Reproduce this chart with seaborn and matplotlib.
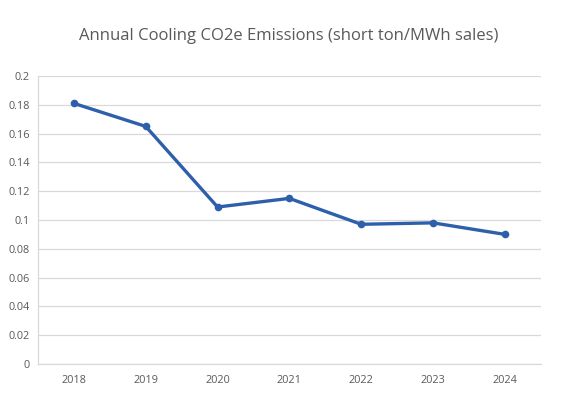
import numpy as np
import matplotlib
matplotlib.use("Agg")
import matplotlib.pyplot as plt
import pandas as pd
import seaborn as sns

years = ["2018", "2019", "2020", "2021", "2022", "2023", "2024"]
emissions = [0.181, 0.165, 0.109, 0.115, 0.097, 0.098, 0.090]
y_ticks = [0, 0.02, 0.04, 0.06, 0.08, 0.1, 0.12, 0.14, 0.16, 0.18, 0.2]
y_tick_labels = ["0", "0.02", "0.04", "0.06", "0.08", "0.1", "0.12", "0.14", "0.16", "0.18", "0.2"]

df = pd.DataFrame({"Year": years, "Emissions": emissions})

sns.set_theme(style="white")
plt.rcParams["font.family"] = ["Open Sans", "DejaVu Sans"]

fig = plt.figure(figsize=(5.63, 3.96), dpi=100)
ax = fig.add_axes([0.0675, 0.081, 0.893, 0.727])

line_color = "#2E5FAB"
text_color = "#595959"
grid_color = "#D9D9D9"

sns.lineplot(data=df, x="Year", y="Emissions", color=line_color, linewidth=2.4,
             marker="o", markersize=5.5, markeredgewidth=0, sort=False, ax=ax)

ax.set_xlim(-0.5, len(years) - 0.5)
ax.set_ylim(0, 0.2)
ax.set_yticks(y_ticks)
ax.set_yticklabels(y_tick_labels)
ax.yaxis.grid(True, color=grid_color, linewidth=0.9)
ax.set_axisbelow(True)
ax.set_xlabel("")
ax.set_ylabel("")

for s in ["top", "right"]:
    ax.spines[s].set_visible(False)
ax.spines["left"].set_color(grid_color)
ax.spines["bottom"].set_color(grid_color)
ax.spines["left"].set_linewidth(0.9)
ax.spines["bottom"].set_linewidth(0.9)

ax.tick_params(axis="both", length=0, labelsize=7.8, colors=text_color)
ax.tick_params(axis="y", pad=6)
ax.tick_params(axis="x", pad=8)

fig.suptitle("Annual Cooling CO2e Emissions (short ton/MWh sales)", x=0.513, y=0.93,
             fontsize=12, color=text_color)

fig.savefig("out.png", dpi=100, facecolor="white")
